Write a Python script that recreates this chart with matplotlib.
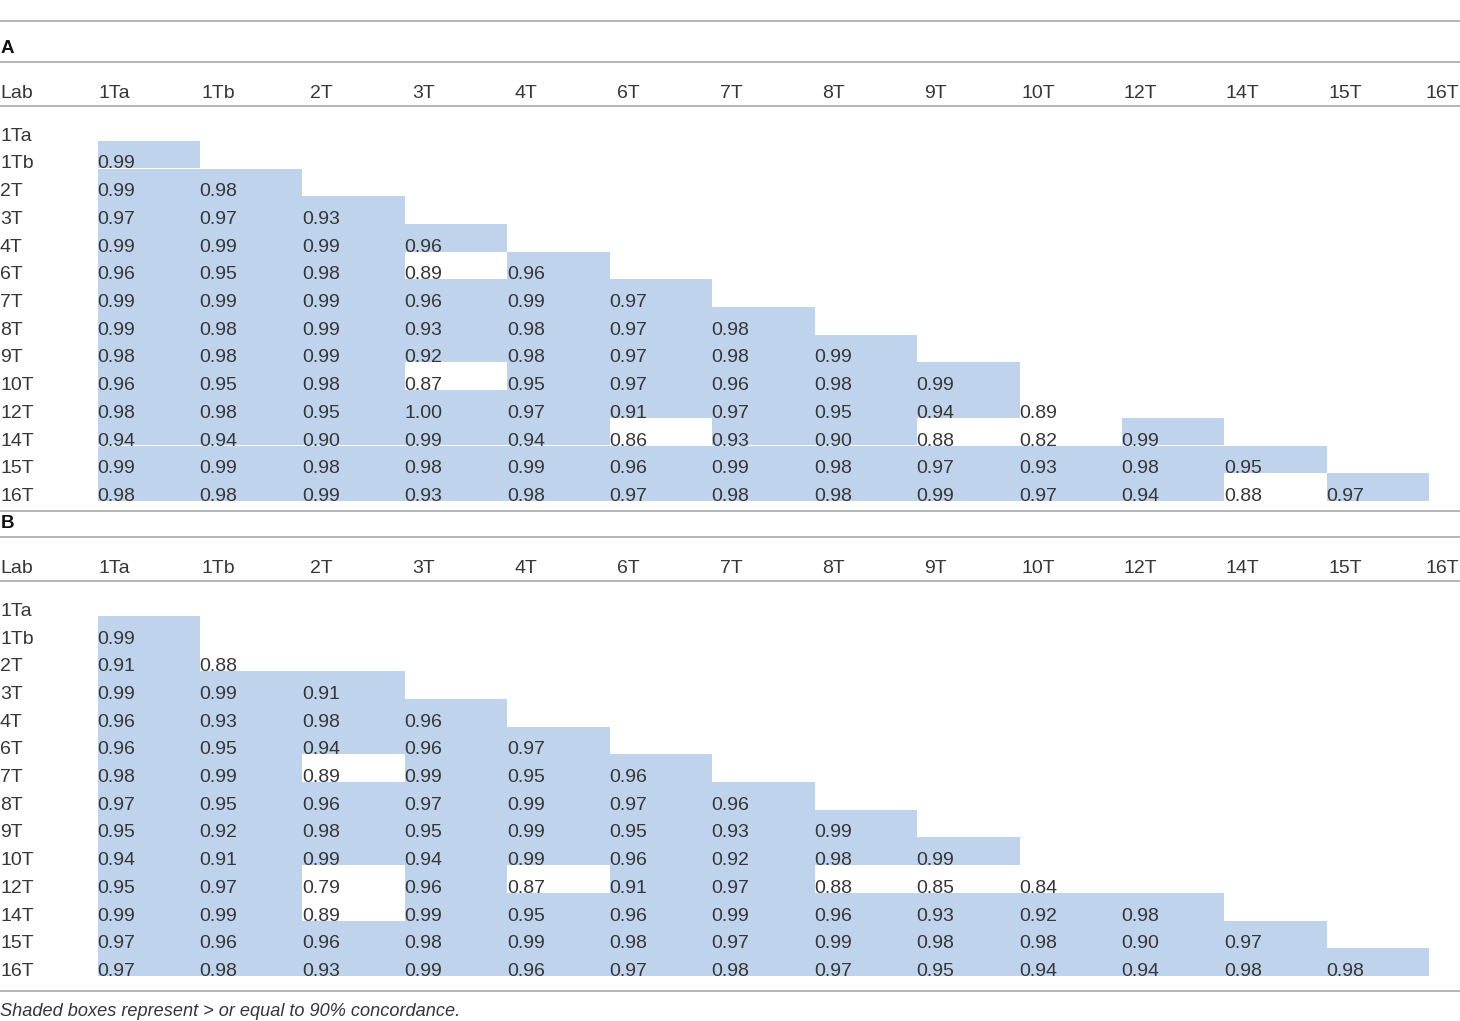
import matplotlib
matplotlib.use("Agg")
import matplotlib.pyplot as plt
from matplotlib.patches import Rectangle

labs = ["1Ta", "1Tb", "2T", "3T", "4T", "6T", "7T", "8T", "9T", "10T", "12T", "14T", "15T", "16T"]

panel_a = [
    [],
    [0.99],
    [0.99, 0.98],
    [0.97, 0.97, 0.93],
    [0.99, 0.99, 0.99, 0.96],
    [0.96, 0.95, 0.98, 0.89, 0.96],
    [0.99, 0.99, 0.99, 0.96, 0.99, 0.97],
    [0.99, 0.98, 0.99, 0.93, 0.98, 0.97, 0.98],
    [0.98, 0.98, 0.99, 0.92, 0.98, 0.97, 0.98, 0.99],
    [0.96, 0.95, 0.98, 0.87, 0.95, 0.97, 0.96, 0.98, 0.99],
    [0.98, 0.98, 0.95, 1.00, 0.97, 0.91, 0.97, 0.95, 0.94, 0.89],
    [0.94, 0.94, 0.90, 0.99, 0.94, 0.86, 0.93, 0.90, 0.88, 0.82, 0.99],
    [0.99, 0.99, 0.98, 0.98, 0.99, 0.96, 0.99, 0.98, 0.97, 0.93, 0.98, 0.95],
    [0.98, 0.98, 0.99, 0.93, 0.98, 0.97, 0.98, 0.98, 0.99, 0.97, 0.94, 0.88, 0.97],
]

panel_b = [
    [],
    [0.99],
    [0.91, 0.88],
    [0.99, 0.99, 0.91],
    [0.96, 0.93, 0.98, 0.96],
    [0.96, 0.95, 0.94, 0.96, 0.97],
    [0.98, 0.99, 0.89, 0.99, 0.95, 0.96],
    [0.97, 0.95, 0.96, 0.97, 0.99, 0.97, 0.96],
    [0.95, 0.92, 0.98, 0.95, 0.99, 0.95, 0.93, 0.99],
    [0.94, 0.91, 0.99, 0.94, 0.99, 0.96, 0.92, 0.98, 0.99],
    [0.95, 0.97, 0.79, 0.96, 0.87, 0.91, 0.97, 0.88, 0.85, 0.84],
    [0.99, 0.99, 0.89, 0.99, 0.95, 0.96, 0.99, 0.96, 0.93, 0.92, 0.98],
    [0.97, 0.96, 0.96, 0.98, 0.99, 0.98, 0.97, 0.99, 0.98, 0.98, 0.90, 0.97],
    [0.97, 0.98, 0.93, 0.99, 0.96, 0.97, 0.98, 0.97, 0.95, 0.94, 0.94, 0.98, 0.98],
]

panel_names = ["A", "B"]
threshold = 0.90
footnote = "Shaded boxes represent > or equal to 90% concordance."

# layout (pixel units of the figure)
W, H = 1460, 1021
col0, colw = 97.5, 102.45
row_base0, row_h = 140.8, 27.7
panel_shift = 475.0
shade = "#bfd3ec"
txt = "#363636"
line_c = "#a8a8a8"
fs = 14
fam = ["Liberation Sans", "DejaVu Sans"]

fig = plt.figure(figsize=(W / 100, H / 100), dpi=100)
ax = fig.add_axes([0, 0, 1, 1])
ax.set_xlim(0, W)
ax.set_ylim(H, 0)
ax.axis("off")

def hline(y):
    ax.plot([0, W], [y, y], color=line_c, lw=1.2, solid_capstyle="butt")

hline(20.7)
for p, (name, data) in enumerate(zip(panel_names, [panel_a, panel_b])):
    off = p * panel_shift
    if p == 1:
        hline(510.7)
    ax.text(1, 53.3 + off, name, fontsize=13.5, fontweight="bold", color="#111111",
            family=fam, va="baseline", ha="left")
    hline(61.7 + off)
    ax.text(0, 97.7 + off, "Lab", fontsize=fs, color=txt, family=fam, va="baseline", ha="left")
    for j, lab in enumerate(labs):
        if j == len(labs) - 1:
            ax.text(W - 1, 97.7 + off, lab, fontsize=fs, color=txt,
                    family=fam, va="baseline", ha="left" if False else "right")
        else:
            dx = 1.5 if lab.startswith("1") else 7.5
            ax.text(col0 + j * colw + dx, 97.7 + off, lab, fontsize=fs, color=txt,
                    family=fam, va="baseline", ha="left")
    hline(105.7 + off)
    for i, lab in enumerate(labs):
        yb = row_base0 + i * row_h + off
        ax.text(0, yb, lab, fontsize=fs, color=txt, family=fam, va="baseline", ha="left")
        for j, v in enumerate(data[i]):
            x = col0 + j * colw
            if v >= threshold:
                ax.add_patch(Rectangle((x, yb - row_h), colw, row_h, facecolor=shade,
                                       edgecolor="none", zorder=0))
            ax.text(x - 0.5, yb, f"{v:.2f}", fontsize=fs, color=txt, family=fam,
                    va="baseline", ha="left", zorder=2)

hline(990.7)
ax.text(0, 1016, footnote, fontsize=13.1, color=txt, family=fam, style="italic",
        va="baseline", ha="left")

fig.savefig("out.png", dpi=100)
